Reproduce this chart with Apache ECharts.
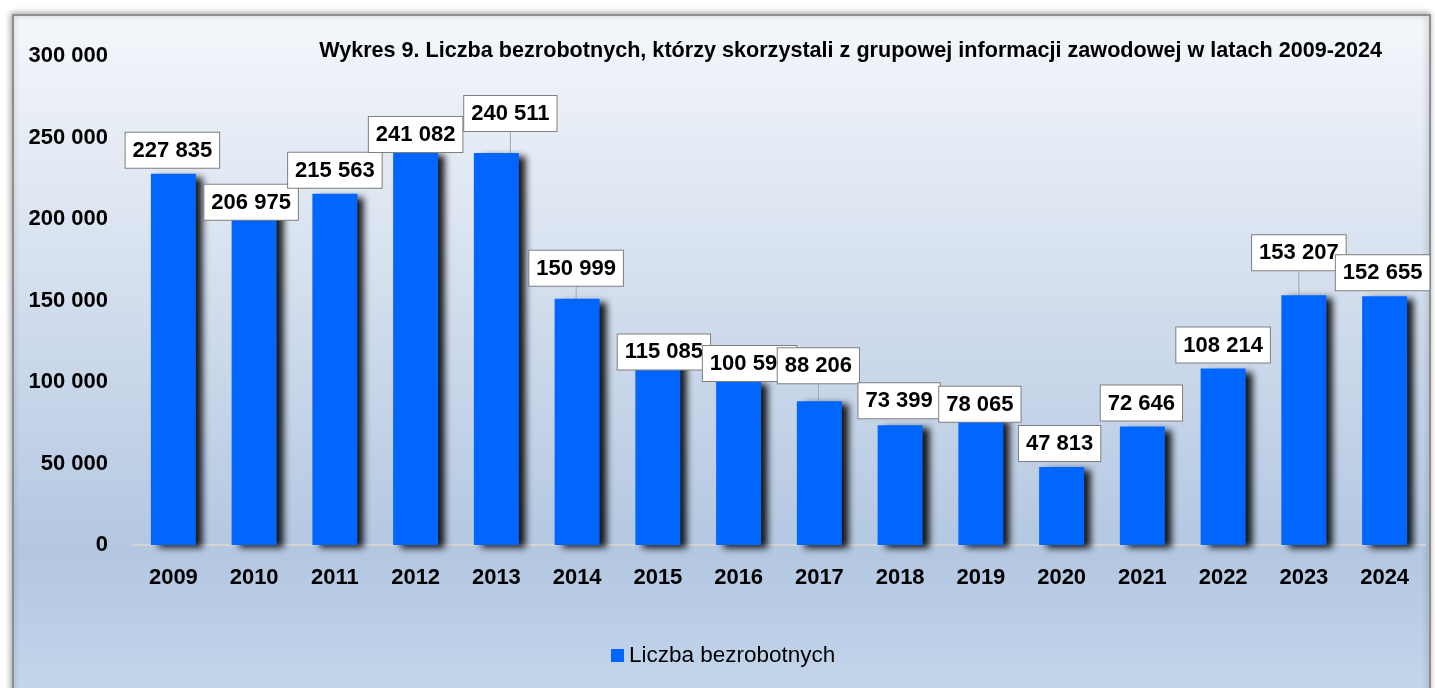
<!DOCTYPE html>
<html>
<head>
<meta charset="utf-8">
<script src="https://cdn.jsdelivr.net/npm/echarts@6/dist/echarts.min.js"></script>
<style>
  html, body { margin: 0; padding: 0; background: #ffffff; }
  #container { width: 1435px; height: 688px; }
</style>
</head>
<body>
<div id="container"></div>
<script>
var years = ['2009', '2010', '2011', '2012', '2013', '2014', '2015', '2016',
             '2017', '2018', '2019', '2020', '2021', '2022', '2023', '2024'];
var unemployed = [227835, 206975, 215563, 241082, 240511, 150999, 115085, 100595,
                  88206, 73399, 78065, 47813, 72646, 108214, 153207, 152655];
var seriesName = 'Liczba bezrobotnych';
var chartTitle = 'Wykres 9. Liczba bezrobotnych, którzy skorzystali z grupowej informacji zawodowej w latach 2009-2024';

// przesunięcia etykiet (dx, dy) jak w oryginale z Excela
var labelShift = [[-1, 0], [-3, 18], [0, 0], [0, 6], [14, -16], [-1, -7], [6, 18], [11, 6],
                  [-1, -12], [-1, -1], [-1, 10], [-2, 0], [-1, 0], [0, 0], [-5, -19], [-2, 0]];
var leaderLines = [4, 5, 8, 14];

var container = document.getElementById('container');
var chart = echarts.init(container);

function formatNumber(v) {
    return String(v).replace(/\B(?=(\d{3})+(?!\d))/g, ' ');
}

var font = 'Liberation Sans, Arial, sans-serif';

var option = {
    backgroundColor: '#ffffff',
    animation: false,
    graphic: [{
        type: 'rect',
        z: -10,
        shape: { x: 13, y: 15, width: 1417, height: 690 },
        style: {
            fill: new echarts.graphic.LinearGradient(0, 0, 0, 1, [
                { offset: 0, color: '#f5f7fb' },
                { offset: 0.78, color: '#b3c7e1' },
                { offset: 1, color: '#c6d7ec' }
            ]),
            stroke: '#8e8e8e',
            lineWidth: 2,
            shadowColor: 'rgba(0,0,0,0.35)',
            shadowBlur: 6,
            shadowOffsetX: -1,
            shadowOffsetY: -1
        }
    }],
    title: {
        text: chartTitle,
        right: 48,
        top: 35,
        textStyle: { fontFamily: font, fontSize: 21.6, fontWeight: 'bold', color: '#000' }
    },
    legend: {
        left: 606,
        top: 639,
        itemWidth: 13,
        itemHeight: 13,
        icon: 'rect',
        textStyle: { fontFamily: font, fontSize: 22.5, color: '#000' },
        data: [seriesName]
    },
    grid: { left: 133, right: 10, top: 56, bottom: 143 },
    xAxis: {
        type: 'category',
        data: years,
        axisTick: { show: false },
        axisLine: { lineStyle: { color: '#d4d4d4', width: 2 } },
        axisLabel: { fontFamily: font, fontSize: 22, fontWeight: 'bold', color: '#000', margin: 22 }
    },
    yAxis: {
        type: 'value',
        min: 0,
        max: 300000,
        interval: 50000,
        splitLine: { show: false },
        axisLine: { show: false },
        axisTick: { show: false },
        axisLabel: {
            fontFamily: font, fontSize: 22, fontWeight: 'bold', color: '#000', margin: 25,
            formatter: formatNumber
        }
    },
    series: [{
        name: seriesName,
        type: 'bar',
        barWidth: 45,
        data: unemployed.map(function (v, i) {
            return { value: v, labelLine: { show: leaderLines.indexOf(i) >= 0 } };
        }),
        itemStyle: {
            color: '#0066ff',
            shadowColor: 'rgba(0,0,0,0.9)',
            shadowBlur: 7,
            shadowOffsetX: 7,
            shadowOffsetY: 3
        },
        label: {
            show: true,
            position: 'top',
            distance: 6,
            fontFamily: font,
            fontSize: 22,
            fontWeight: 'bold',
            color: '#000',
            backgroundColor: '#ffffff',
            borderColor: '#7f7f7f',
            borderWidth: 1,
            padding: [7, 7, 6, 7],
            formatter: function (p) { return formatNumber(p.value); }
        },
        labelLine: {
            lineStyle: { color: '#a6a6a6', width: 1 }
        },
        labelLayout: function (params) {
            var s = labelShift[params.dataIndex];
            return {
                x: params.rect.x + params.rect.width / 2 + s[0],
                y: params.rect.y - 6 + s[1],
                align: 'center',
                verticalAlign: 'bottom'
            };
        }
    }]
};

chart.setOption(option);
</script>
</body>
</html>
